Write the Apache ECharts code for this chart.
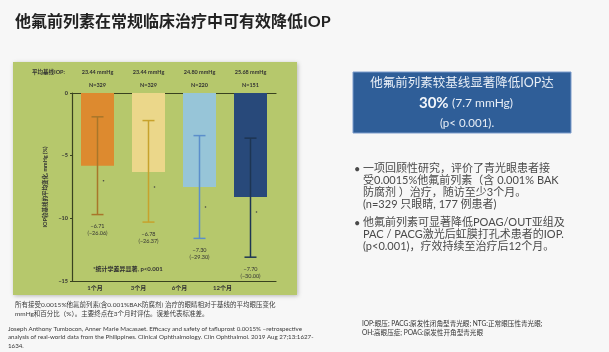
<!DOCTYPE html>
<html>
<head>
<meta charset="utf-8">
<script src="https://cdn.jsdelivr.net/npm/echarts@6/dist/echarts.min.js"></script>
<style>
  html, body { margin: 0; padding: 0; background: #f7f7f7; }
  #main { width: 609px; height: 352px; }
</style>
</head>
<body>
<div id="main"></div>
<script>
const categories = ["1个月", "3个月", "6个月", "12个月"];
const baselineIop = ["23.44 mmHg", "23.44 mmHg", "24.80 mmHg", "25.68 mmHg"];
const eyeCounts = ["N=329", "N=329", "N=220", "N=151"];
const meanChange = [-5.8, -6.3, -7.5, -8.3];
const errHigh = [-1.9, -2.2, -3.4, -3.6];
const errLow = [-9.7, -10.3, -11.6, -13.1];
const starValue = [-7.0, -7.5, -9.1, -9.5];
const mmhgLabels = ["−6.71", "−6.78", "−7.30", "−7.70"];
const pctLabels = ["(−26.06)", "(−26.37)", "(−29.30)", "(−30.00)"];
const yTicks = [-15, -10, -5, 0];

const FONT = 'Lato, "Noto Sans CJK SC", sans-serif';
const barColors = ["#dd8a2f", "#ebd78a", "#97c5d8", "#28497a"];
const whiskerColors = ["#a8762a", "#c7a22c", "#5b8fcb", "#1d3553"];
const axisColor = "#39421f";
// the original x labels drift left, keep that
const labelShift = [5, 20, 40, 56];

const xRich = {};
labelShift.forEach((p, i) => {
  xRich["l" + i] = {
    padding: [0, p, 0, 0],
    fontSize: 6,
    fontWeight: "bold",
    color: "#333",
    fontFamily: FONT
  };
});

function txt(x, y, text, size, opts) {
  return Object.assign(
    {
      type: "text",
      x: x,
      y: y,
      style: {
        text: text,
        fontSize: size,
        fontFamily: FONT,
        fill: "#333",
        align: "left",
        verticalAlign: "middle"
      }
    },
    opts || {}
  );
}

function styled(el, extra) {
  Object.assign(el.style, extra);
  return el;
}

const chart = echarts.init(document.getElementById("main"));

const option = {
  backgroundColor: "#f7f7f7",
  animation: false,
  grid: { left: 72, right: 333, top: 93, bottom: 71 },
  xAxis: [
    {
      type: "category",
      data: categories,
      position: "bottom",
      axisLine: { onZero: false, lineStyle: { color: axisColor, width: 1.2 } },
      axisTick: { alignWithLabel: true, length: 2, lineStyle: { color: axisColor } },
      axisLabel: {
        interval: 0,
        hideOverlap: false,
        margin: 4,
        formatter: (v, i) => "{l" + i + "|" + v + "}",
        rich: xRich
      }
    },
    {
      type: "category",
      data: categories,
      position: "top",
      axisLine: { onZero: false, lineStyle: { color: axisColor, width: 1.2 } },
      axisTick: { show: false },
      axisLabel: {
        interval: 0,
        hideOverlap: false,
        margin: 3,
        formatter: (v, i) => "{a|" + baselineIop[i] + "}\n{b|" + eyeCounts[i] + "}",
        rich: {
          a: { fontSize: 5.5, fontWeight: "bold", color: "#333", lineHeight: 18, fontFamily: FONT },
          b: { fontSize: 5.5, fontWeight: "bold", color: "#333", lineHeight: 9, fontFamily: FONT }
        }
      }
    }
  ],
  yAxis: {
    type: "value",
    min: yTicks[0],
    max: yTicks[yTicks.length - 1],
    interval: 5,
    name: "IOP较基线的平均变化, mmHg (%)",
    nameLocation: "middle",
    nameGap: 24,
    nameTextStyle: { fontSize: 5.5, fontWeight: "bold", color: "#333", fontFamily: FONT },
    axisLine: { show: true, lineStyle: { color: axisColor, width: 1.2 } },
    axisTick: { show: true, length: 2, lineStyle: { color: axisColor } },
    splitLine: { show: false },
    axisLabel: {
      margin: 4,
      fontSize: 5.5,
      fontWeight: "bold",
      color: "#333",
      fontFamily: FONT,
      formatter: v => (v < 0 ? "−" + Math.abs(v) : String(v))
    }
  },
  series: [
    {
      type: "bar",
      barWidth: 33,
      data: meanChange.map((v, i) => ({ value: v, itemStyle: { color: barColors[i] } }))
    },
    {
      type: "custom",
      z: 5,
      data: categories.map((c, i) => [i, errLow[i], errHigh[i], starValue[i]]),
      renderItem: (params, api) => {
        const i = api.value(0);
        const lo = api.coord([i, api.value(1)]);
        const hi = api.coord([i, api.value(2)]);
        const st = api.coord([i, api.value(3)]);
        const stroke = { stroke: whiskerColors[i], lineWidth: 1.5 };
        return {
          type: "group",
          children: [
            { type: "line", shape: { x1: lo[0], y1: lo[1], x2: hi[0], y2: hi[1] }, style: stroke },
            { type: "line", shape: { x1: hi[0] - 6, y1: hi[1], x2: hi[0] + 6, y2: hi[1] }, style: stroke },
            { type: "line", shape: { x1: lo[0] - 6, y1: lo[1], x2: lo[0] + 6, y2: lo[1] }, style: stroke },
            { type: "circle", shape: { cx: st[0] + 6, cy: st[1], r: 0.8 }, style: { fill: "#444" } },
            {
              type: "text",
              x: lo[0],
              y: lo[1] + 12,
              style: { text: mmhgLabels[i], fontSize: 5.5, fontFamily: FONT, fill: "#333", align: "center", verticalAlign: "middle" }
            },
            {
              type: "text",
              x: lo[0],
              y: lo[1] + 19,
              style: { text: pctLabels[i], fontSize: 5.5, fontFamily: FONT, fill: "#333", align: "center", verticalAlign: "middle" }
            }
          ]
        };
      }
    }
  ],
  graphic: [
    {
      type: "rect",
      z: -10,
      shape: { x: 13, y: 62, width: 284, height: 233 },
      style: { fill: "#b6c86c", shadowBlur: 4, shadowOffsetX: 1, shadowOffsetY: 1, shadowColor: "rgba(0,0,0,0.25)" }
    },
    txt(15, 22, "他氟前列素在常规临床治疗中可有效降低IOP", 16, {}),
    txt(32, 72, "平均基线IOP:", 5.5, {}),
    txt(93, 269, "*统计学差异显著, p<0.001", 6, {}),
    txt(15, 305, "所有接受0.0015%他氟前列素(含0.001%BAK防腐剂) 治疗的眼睛相对于基线的平均眼压变化", 6.5, {}),
    txt(15, 314, "mmHg和百分比（%）。主要终点在3个月时评估。误差代表标准差。", 6.5, {}),
    txt(8, 329, "Joseph Anthony Tumbocon, Anner Marie Macasaet. Efficacy and safety of tafluprost 0.0015% –retrospective", 6.2, {}),
    txt(8, 337.5, "analysis of real-world data from the Philippines. Clinical Ophthalmology. Clin Ophthalmol. 2019 Aug 27;13:1627-", 6.2, {}),
    txt(8, 346, "1634.", 6.2, {}),
    {
      type: "rect",
      shape: { x: 353, y: 72, width: 218, height: 61 },
      style: { fill: "#2f5e98", stroke: "#7c9ccc", lineWidth: 1 }
    },
    txt(462, 83, "他氟前列素较基线显著降低IOP达", 12.5, {}),
    {
      type: "text",
      x: 466,
      y: 103,
      style: {
        text: "{a|30%} {b|(7.7 mmHg)}",
        align: "center",
        verticalAlign: "middle",
        rich: {
          a: { fontSize: 15, fontWeight: "bold", fill: "#f2f5fa", fontFamily: FONT },
          b: { fontSize: 12, fill: "#e8eef6", fontFamily: FONT }
        }
      }
    },
    txt(467, 123, "(p< 0.001).", 11.5, {}),
    txt(354, 169, "•", 11, {}),
    txt(363, 168, "一项回顾性研究，评价了青光眼患者接", 11, {}),
    txt(363, 180, "受0.0015%他氟前列素（含 0.001% BAK", 11, {}),
    txt(363, 192, "防腐剂 ）治疗，随访至少3个月。", 11, {}),
    txt(363, 204, "(n=329 只眼睛, 177 例患者)", 11, {}),
    txt(354, 223, "•", 11, {}),
    txt(363, 222, "他氟前列素可显著降低POAG/OUT亚组及", 11, {}),
    txt(363, 234, "PAC / PACG激光后虹膜打孔术患者的IOP.", 11, {}),
    txt(363, 246, "(p<0.001)，疗效持续至治疗后12个月。", 11, {}),
    txt(362, 324, "IOP:眼压; PACG:原发性闭角型青光眼; NTG:正常眼压性青光眼;", 6.6, {}),
    txt(362, 333, "OH:高眼压症; POAG:原发性开角型青光眼", 6.6, {})
  ]
};

// fonts and colours that differ from the default text helper
const g = option.graphic;
styled(g[1], { fontWeight: "bold", fill: "#222" });
styled(g[2], { fontWeight: "bold" });
styled(g[3], { fontWeight: "bold" });
[4, 5, 6, 7, 8].forEach(k => styled(g[k], { fill: "#3a3a3a" }));
styled(g[10], { align: "center", fill: "#e8eef6" });
styled(g[12], { align: "center", fill: "#e8eef6" });
for (let k = 13; k <= 21; k++) styled(g[k], { fill: "#4a4a4a" });
styled(g[22], { fill: "#333" });
styled(g[23], { fill: "#333" });

chart.setOption(option);
</script>
</body>
</html>
